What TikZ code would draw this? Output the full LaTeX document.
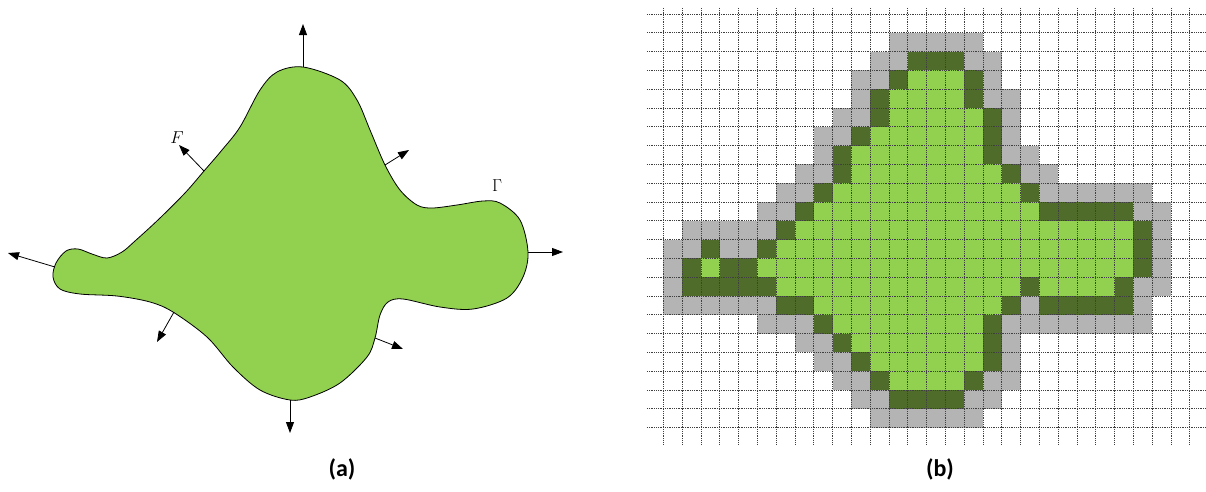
\documentclass[tikz,border=0pt]{standalone}
\usepackage{fontspec}
\newfontfamily\labfont{Carlito}
\usetikzlibrary{arrows.meta}
\definecolor{lgreen}{RGB}{146,208,80}
\definecolor{dgreen}{RGB}{79,108,43}
\definecolor{cellgray}{RGB}{180,180,180}
\tikzset{
  force/.style={line width=0.8pt, -{Triangle[length=11pt,width=8pt]}},
  gridline/.style={black!75, densely dotted, line width=0.8pt},
  sublabel/.style={font=\labfont\bfseries\fontsize{24}{24}\selectfont},
  bdlabel/.style={font=\fontsize{16}{16}\selectfont, inner sep=0pt}
}
\begin{document}
\begin{tikzpicture}[x=1pt,y=-1pt]
\useasboundingbox (0,0) rectangle (1206,491);
% ---------- (a) blob ----------
\draw[fill=lgreen, line width=0.8pt] plot[smooth cycle, tension=0.55] coordinates {
(303,67) (340,80) (357,100) (370,130) (385,165) (400,190) (417,205) (432,208)
(457,205) (483,201) (500,203) (520,220) (528,252) (523,277) (507,298) (473,309)
(440,307) (403,299) (388,302) (380,315) (375,338) (367,357) (340,383) (310,397)
(290,400) (260,390) (233,367) (207,337) (173,312) (150,302) (117,296) (80,294)
(60,289) (53,277) (56,263) (66,251) (78,249) (92,254) (107,258) (122,252)
(135,241) (159,219) (185,193) (204,171) (222,150) (240,127) (260,90) (277,72)};
\coordinate (top0) at (303,67);  \coordinate (top1) at (303,24);
\coordinate (f0) at (204,171);   \coordinate (f1) at (179,145);
\coordinate (ur0) at (385,165);  \coordinate (ur1) at (409,150);
\coordinate (r0) at (528,252);   \coordinate (r1) at (563,252);
\coordinate (lr0) at (375,338);  \coordinate (lr1) at (403,349);
\coordinate (b0) at (290,400);   \coordinate (b1) at (290,433);
\coordinate (ll0) at (174,312);  \coordinate (ll1) at (157,342);
\coordinate (l0) at (55,267);    \coordinate (l1) at (8,253);
\draw[force] (top0) -- (top1);
\draw[force] (f0) -- (f1);
\draw[force] (ur0) -- (ur1);
\draw[force] (r0) -- (r1);
\draw[force] (lr0) -- (lr1);
\draw[force] (b0) -- (b1);
\draw[force] (ll0) -- (ll1);
\draw[force] (l0) -- (l1);
\node[bdlabel] (F) at (177,138) {$F$};
\node[bdlabel] (G) at (497,186) {$\Gamma$};
% ---------- (b) grid ----------
\begin{scope}[shift={(663.3,14)}, x=18.8pt, y=-18.8pt]
\foreach \r/\a/\b in {1/12/16, 2/11/12, 2/16/17, 3/10/11, 3/17/17, 4/10/10, 4/17/18,
  5/9/10, 5/18/18, 6/8/9, 6/18/18, 7/8/8, 7/18/19, 8/7/8, 8/19/20, 9/6/7, 9/20/25,
  10/5/6, 10/25/26, 11/1/5, 11/26/26, 12/0/1, 12/3/4, 12/26/26, 13/0/0, 13/26/26,
  14/0/0, 14/25/26, 15/0/5, 15/19/19, 15/25/25, 16/5/7, 16/18/25, 17/7/8, 17/18/18,
  18/8/9, 18/18/18, 19/9/10, 19/17/18, 20/10/11, 20/16/17, 21/11/16}
  \fill[cellgray] (\a,\r) rectangle ({\b+1},{\r+1});
\foreach \r/\a/\b in {2/13/15, 3/12/12, 3/16/16, 4/11/11, 4/16/16, 5/11/11, 5/17/17,
  6/10/10, 6/17/17, 7/9/9, 7/17/17, 8/9/9, 8/18/18, 9/8/8, 9/19/19, 10/7/7, 10/20/24,
  11/6/6, 11/25/25, 12/2/2, 12/5/5, 12/25/25, 13/1/1, 13/3/4, 13/25/25,
  14/1/5, 14/19/19, 14/24/24, 15/6/7, 15/18/18, 15/20/24, 16/8/8, 16/17/17,
  17/9/9, 17/17/17, 18/10/10, 18/17/17, 19/11/11, 19/16/16, 20/12/15}
  \fill[dgreen] (\a,\r) rectangle ({\b+1},{\r+1});
\foreach \r/\a/\b in {3/13/15, 4/12/15, 5/12/16, 6/11/16, 7/10/16, 8/10/17, 9/9/18,
  10/8/19, 11/7/24, 12/6/24, 13/2/2, 13/5/24, 14/6/18, 14/20/23, 15/8/17,
  16/9/16, 17/10/16, 18/11/16, 19/12/15}
  \fill[lgreen] (\a,\r) rectangle ({\b+1},{\r+1});
\foreach \i in {0,...,28}
  \draw[gridline] (\i,-0.32) -- (\i,22.93);
\foreach \j in {0,...,22}
  \draw[gridline] (-0.87,\j) -- (28.87,\j);
\end{scope}
% ---------- labels ----------
\node[sublabel] (la) at (342,469) {(a)};
\node[sublabel] (lb) at (940,469) {(b)};
\end{tikzpicture}
\end{document}
